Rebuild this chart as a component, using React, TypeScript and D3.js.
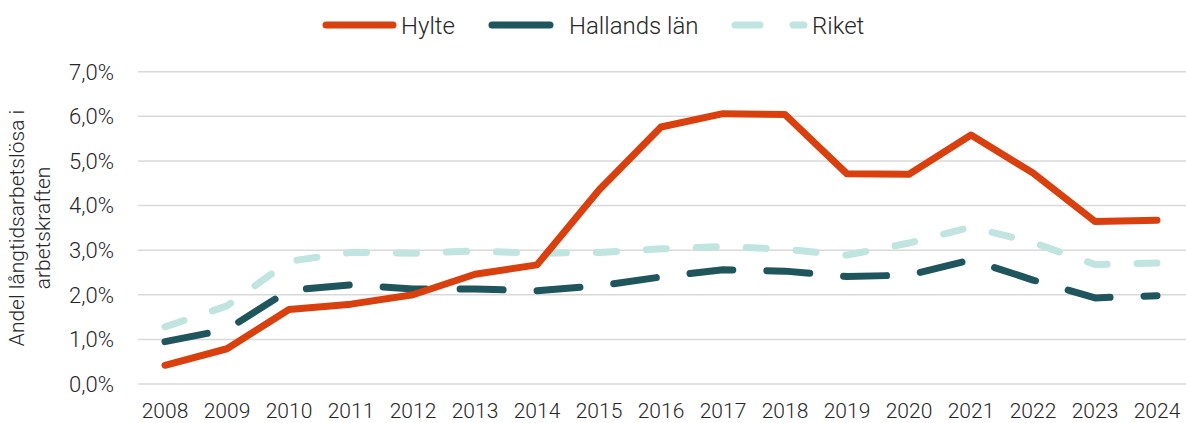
import React from "react";
import * as d3 from "d3";

const years = ["2008","2009","2010","2011","2012","2013","2014","2015","2016","2017","2018","2019","2020","2021","2022","2023","2024"];
const hylte = [0.42, 0.79, 1.67, 1.79, 2.0, 2.46, 2.67, 4.35, 5.76, 6.06, 6.04, 4.71, 4.70, 5.58, 4.73, 3.64, 3.67];
const hallands = [0.95, 1.22, 2.10, 2.22, 2.13, 2.13, 2.09, 2.20, 2.40, 2.56, 2.53, 2.41, 2.44, 2.78, 2.33, 1.93, 1.98];
const riket = [1.28, 1.75, 2.75, 2.95, 2.93, 2.98, 2.93, 2.95, 3.03, 3.08, 3.02, 2.89, 3.16, 3.52, 3.17, 2.68, 2.71];
const yTicks = [0, 1, 2, 3, 4, 5, 6, 7];

const series = [
  { name: "Hylte", values: hylte, color: "#D9400E", dash: "none" },
  { name: "Hallands län", values: hallands, color: "#1F555D", dash: "43 34" },
  { name: "Riket", values: riket, color: "#C0E4E0", dash: "20 30" },
];

const W = 1186, H = 423;
const font = "Roboto, 'Open Sans', sans-serif";
const txt = "#262626";

export default function App() {
  const x = d3.scalePoint<string>().domain(years).range([165, 1157]);
  const y = d3.scaleLinear().domain([0, 7]).range([384, 71.7]);
  const line = d3.line<number>().x((_, i) => x(years[i]) as number).y((d) => y(d));
  const fmt = (v: number) => v.toFixed(1).replace(".", ",") + "%";

  return (
    <svg width={W} height={H} style={{ position: "absolute", left: 0, top: 0, background: "#fff" }}
      fontFamily={font} fontWeight={300}>
      {yTicks.map((t) => (
        <g key={t}>
          <line x1={138} x2={1186} y1={y(t)} y2={y(t)} stroke="#D9D9D9" strokeWidth={1.5} />
          <text x={114} y={y(t)} dy="0.36em" textAnchor="end" fontSize={22} fill={txt}>{fmt(t)}</text>
        </g>
      ))}
      {years.map((yr) => (
        <text key={yr} x={x(yr)} y={418} textAnchor="middle" fontSize={21} fill={txt}>{yr}</text>
      ))}
      <g transform="translate(0,228) rotate(-90)">
        <text x={0} y={24} textAnchor="middle" fontSize={21} fill={txt}>Andel långtidsarbetslösa i</text>
        <text x={0} y={50} textAnchor="middle" fontSize={21} fill={txt}>arbetskraften</text>
      </g>
      {series.slice().reverse().map((s) => (
        <path key={s.name} d={line(s.values) as string} fill="none" stroke={s.color} strokeWidth={7}
          strokeLinecap="round" strokeLinejoin="round" strokeDasharray={s.dash} />
      ))}
      <g>
        <line x1={326} x2={393} y1={25} y2={25} stroke="#D9400E" strokeWidth={7} strokeLinecap="round" />
        <text x={401} y={25} dy="0.36em" fontSize={24} fill={txt}>Hylte</text>
        <line x1={492} x2={550} y1={25} y2={25} stroke="#1F555D" strokeWidth={7} strokeLinecap="round" />
        <text x={569} y={25} dy="0.36em" fontSize={24} fill={txt}>Hallands län</text>
        <line x1={735} x2={760} y1={25} y2={25} stroke="#C0E4E0" strokeWidth={7} strokeLinecap="round" />
        <line x1={793} x2={804} y1={25} y2={25} stroke="#C0E4E0" strokeWidth={7} strokeLinecap="round" />
        <text x={812} y={25} dy="0.36em" fontSize={24} fill={txt}>Riket</text>
      </g>
    </svg>
  );
}
